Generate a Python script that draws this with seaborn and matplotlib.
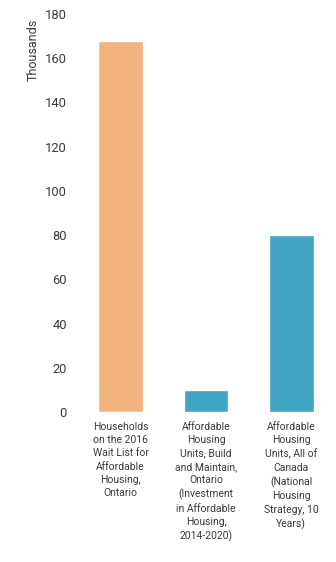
import matplotlib
matplotlib.use("Agg")
import matplotlib.pyplot as plt
import seaborn as sns
import pandas as pd

categories = [
    "Households\non the 2016\nWait List for\nAffordable\nHousing,\nOntario",
    "Affordable\nHousing\nUnits, Build\nand Maintain,\nOntario\n(Investment\nin Affordable\nHousing,\n2014-2020)",
    "Affordable\nHousing\nUnits, All of\nCanada\n(National\nHousing\nStrategy, 10\nYears)",
]
values = [168, 10, 80]
colors = ["#F2B37F", "#3FA5C3", "#3FA5C3"]
yticks = [0, 20, 40, 60, 80, 100, 120, 140, 160, 180]

sns.set_theme(style="white")
plt.rcParams["font.family"] = ["Roboto", "DejaVu Sans"]

df = pd.DataFrame({"cat": categories, "val": values})

fig = plt.figure(figsize=(3.36, 5.62), dpi=100)
ax = fig.add_axes([0.232, 0.267, 0.762, 0.708])

sns.barplot(data=df, x="cat", y="val", hue="cat", palette=colors,
            legend=False, width=0.52, saturation=1, ax=ax)

ax.set_ylim(0, 180)
ax.set_xlim(-0.5, 2.5)
ax.set_yticks(yticks)
ax.set_yticklabels([str(t) for t in yticks], fontsize=9.3, color="#3a3a3a")
ax.tick_params(axis="y", length=0, pad=8)
ax.tick_params(axis="x", length=0, pad=7)
for lbl in ax.get_xticklabels():
    lbl.set_fontsize(7.5)
    lbl.set_color("#3a3a3a")
    lbl.set_linespacing(1.42)
ax.set_xlabel("")
ax.set_ylabel("Thousands", fontsize=9, color="#3a3a3a")
ax.yaxis.set_label_coords(-0.15, 0.91)
for s in ax.spines.values():
    s.set_visible(False)

fig.savefig("out.png", dpi=100)
